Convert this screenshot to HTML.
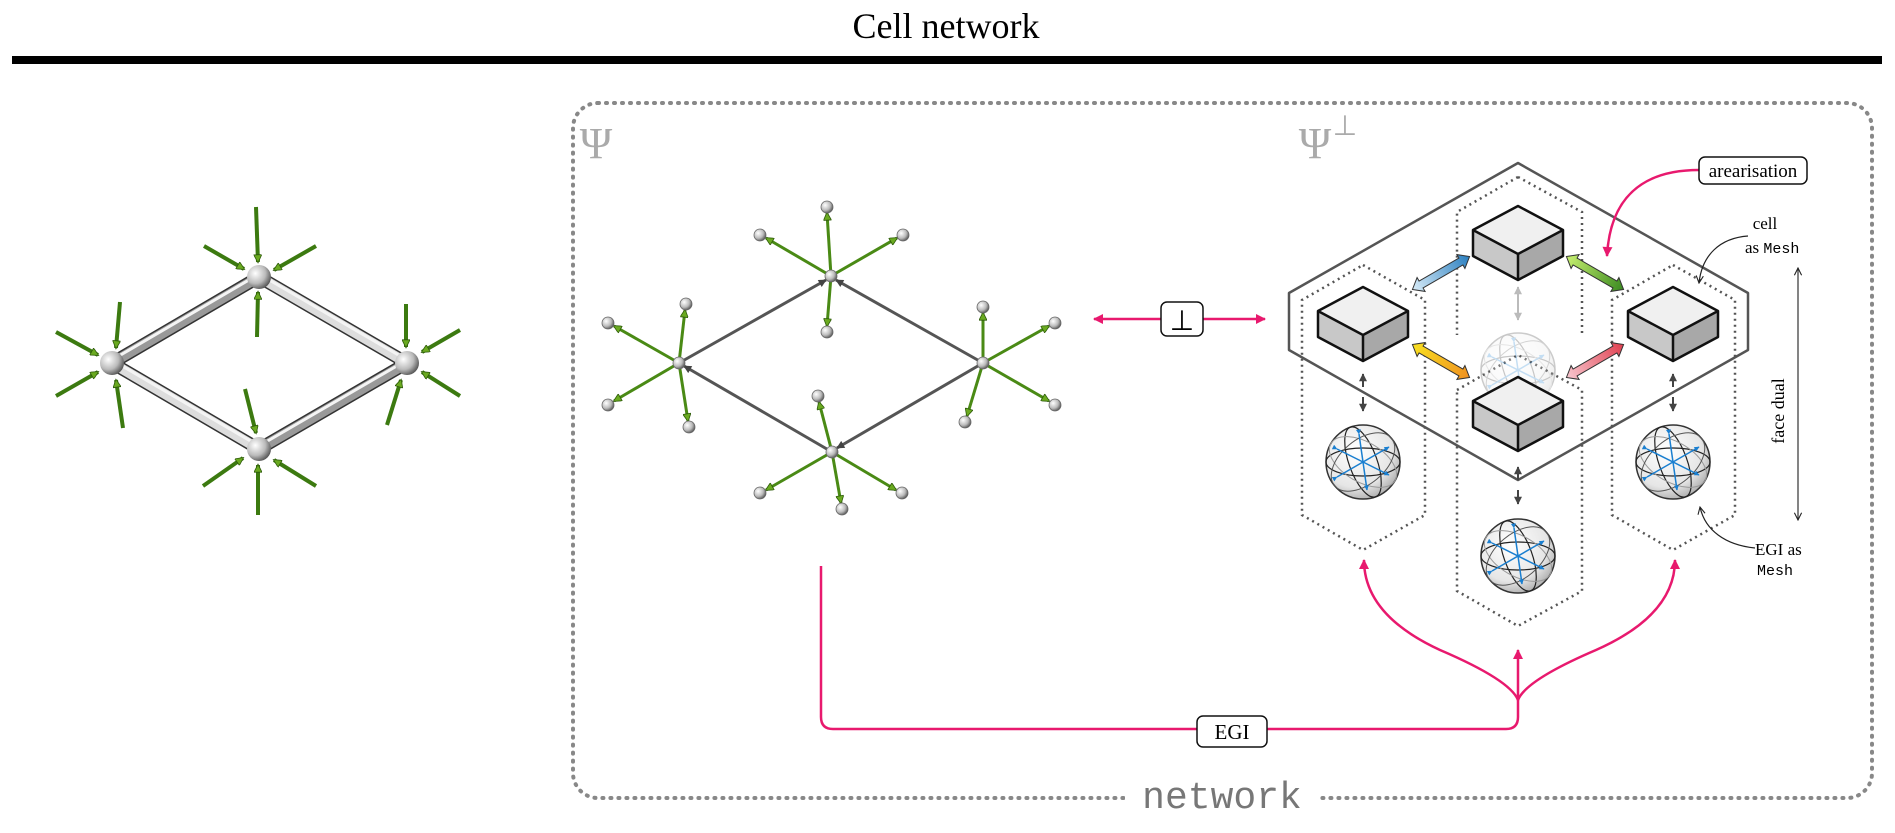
<!DOCTYPE html>
<html><head><meta charset="utf-8"><style>
html,body{margin:0;padding:0;background:#fff;width:1895px;height:833px;overflow:hidden}
svg text{font-family:"Liberation Serif",serif}
</style></head><body>
<svg width="1895" height="833" viewBox="0 0 1895 833" xmlns="http://www.w3.org/2000/svg">
<defs>
<radialGradient id="ball" cx="0.35" cy="0.35" r="0.7"><stop offset="0" stop-color="#fff"/><stop offset="0.6" stop-color="#bbb"/><stop offset="1" stop-color="#555"/></radialGradient>
<radialGradient id="sph" cx="0.4" cy="0.35" r="0.7"><stop offset="0" stop-color="#fff"/><stop offset="0.7" stop-color="#e6e6e6"/><stop offset="1" stop-color="#aaa"/></radialGradient>
<linearGradient id="gb" x1="0" x2="1"><stop offset="0" stop-color="#d8ecf8"/><stop offset="1" stop-color="#2a7fc0"/></linearGradient>
<linearGradient id="gg" x1="0" x2="1"><stop offset="0" stop-color="#c8f070"/><stop offset="1" stop-color="#3a8a20"/></linearGradient>
<linearGradient id="gy" x1="0" x2="1"><stop offset="0" stop-color="#f8e020"/><stop offset="1" stop-color="#f09020"/></linearGradient>
<linearGradient id="gr" x1="0" x2="1"><stop offset="0" stop-color="#f8c8d0"/><stop offset="1" stop-color="#e04050"/></linearGradient>
<marker id="ga" viewBox="0 0 10 10" refX="9" refY="5" markerUnits="userSpaceOnUse" markerWidth="11" markerHeight="8" orient="auto"><path d="M0,0 L10,5 L0,10 z" fill="#6aaa20" stroke="#2d5a0a" stroke-width="1"/></marker>
<marker id="gs" viewBox="0 0 10 10" refX="9" refY="5" markerUnits="userSpaceOnUse" markerWidth="12" markerHeight="8" orient="auto"><path d="M0,0 L10,5 L0,10 z" fill="#6aaa20" stroke="#2d5a0a" stroke-width="1"/></marker>
<marker id="ba" viewBox="0 0 10 10" refX="9" refY="5" markerUnits="userSpaceOnUse" markerWidth="6" markerHeight="5" orient="auto"><path d="M0,0 L10,5 L0,10 z" fill="#1a7fd0"/></marker>
<marker id="pa" viewBox="0 0 10 10" refX="9" refY="5" markerUnits="userSpaceOnUse" markerWidth="11" markerHeight="10" orient="auto-start-reverse"><path d="M0,0 L10,5 L0,10 z" fill="#e8196e"/></marker>
<marker id="ka" viewBox="0 0 10 10" refX="9" refY="5" markerUnits="userSpaceOnUse" markerWidth="10" markerHeight="8" orient="auto-start-reverse"><path d="M0,0 L10,5 L0,10 z" fill="#444"/></marker>
<marker id="la" viewBox="0 0 10 10" refX="9" refY="5" markerUnits="userSpaceOnUse" markerWidth="9" markerHeight="8" orient="auto-start-reverse"><path d="M0,0 L10,5 L0,10 z" fill="#bbb"/></marker>
<marker id="oa" viewBox="0 0 10 10" refX="9" refY="5" markerUnits="userSpaceOnUse" markerWidth="9" markerHeight="9" orient="auto-start-reverse"><path d="M1,1 L9,5 L1,9" fill="none" stroke="#222" stroke-width="1.2"/></marker>
<path id="fat" d="M-33,0 L-23,-8 L-23,-4 L23,-4 L23,-8 L33,0 L23,8 L23,4 L-23,4 L-23,8 Z" stroke="#333" stroke-width="1"/>
<g id="cube">
<path d="M0,-36 L45,-12 L45,14 L0,38 L-45,14 L-45,-12 Z" fill="#d0d0d0"/>
<path d="M-45,-12 L0,-36 L45,-12 L0,12 Z" fill="#f0f0f0"/>
<path d="M-45,-12 L0,12 L0,38 L-45,14 Z" fill="#c8c8c8"/>
<path d="M0,12 L45,-12 L45,14 L0,38 Z" fill="#a8a8a8"/>
<path d="M-45,-12 L0,-36 L45,-12" fill="none" stroke="#ccc" stroke-width="1"/>
<path d="M0,-36 L45,-12 L45,14 L0,38 L-45,14 L-45,-12 Z M-45,-12 L0,12 L45,-12 M0,12 L0,38" fill="none" stroke="#111" stroke-width="2.5" stroke-linejoin="round"/>
</g>
<g id="sphere">
<circle r="37" fill="url(#sph)" stroke="#333" stroke-width="1.5"/>
<ellipse rx="37" ry="14" fill="none" stroke="#222" stroke-width="1.2"/>
<ellipse rx="14" ry="37" fill="none" stroke="#222" stroke-width="1.2" transform="rotate(-20)"/>
<ellipse rx="37" ry="20" fill="none" stroke="#999" stroke-width="1" transform="rotate(30)"/>
<ellipse rx="37" ry="22" fill="none" stroke="#555" stroke-width="1" transform="rotate(-40)"/>
<g stroke="#1a7fd0" stroke-width="1.5" marker-end="url(#ba)" marker-start="url(#ba)">
<line x1="-26" y1="15" x2="26" y2="-15"/><line x1="-26" y1="-13" x2="26" y2="13"/><line x1="-4" y1="-28" x2="4" y2="28"/>
</g>
</g>
</defs>

<text x="946" y="38" font-size="36" text-anchor="middle">Cell network</text>
<rect x="12" y="56" width="1870" height="8" fill="#000"/>

<!-- left network -->
<g stroke-linecap="round">
<g stroke="#333" stroke-width="13"><line x1="112" y1="363" x2="259" y2="277"/><line x1="259" y1="277" x2="407" y2="363"/><line x1="407" y1="363" x2="259" y2="449"/><line x1="259" y1="449" x2="112" y2="363"/></g>
<g stroke-width="10"><line x1="112" y1="363" x2="259" y2="277" stroke="#999"/><line x1="259" y1="277" x2="407" y2="363" stroke="#ddd"/><line x1="407" y1="363" x2="259" y2="449" stroke="#999"/><line x1="259" y1="449" x2="112" y2="363" stroke="#ddd"/></g>
<g stroke-width="3" stroke="#f4f4f4"><line x1="112" y1="360" x2="259" y2="274"/><line x1="259" y1="274" x2="407" y2="360"/><line x1="407" y1="360" x2="259" y2="446"/><line x1="259" y1="446" x2="112" y2="360"/></g>
</g>
<g stroke="#3c7a10" stroke-width="4" marker-end="url(#ga)">
<line x1="256" y1="207" x2="258" y2="262"/><line x1="204" y1="246" x2="244" y2="269"/><line x1="316" y1="246" x2="274" y2="270"/><line x1="257" y1="337" x2="258" y2="292"/>
<line x1="120" y1="302" x2="116" y2="348"/><line x1="56" y1="332" x2="98" y2="355"/><line x1="56" y1="396" x2="98" y2="372"/><line x1="123" y1="428" x2="116" y2="380"/>
<line x1="406" y1="304" x2="406" y2="347"/><line x1="387" y1="425" x2="401" y2="380"/>
<line x1="245" y1="389" x2="256" y2="433"/><line x1="203" y1="486" x2="243" y2="458"/><line x1="316" y1="486" x2="274" y2="460"/><line x1="258" y1="515" x2="258" y2="465"/>
<line x1="460" y1="330" x2="422" y2="352"/><line x1="460" y1="396" x2="422" y2="372"/>
</g>
<g fill="url(#ball)"><circle cx="112" cy="363" r="12"/><circle cx="259" cy="277" r="12"/><circle cx="407" cy="363" r="12"/><circle cx="259" cy="449" r="12"/></g>

<!-- dotted frame -->
<rect x="573" y="103" width="1299" height="695" rx="25" fill="none" stroke="#888" stroke-width="4" stroke-dasharray="1 7" stroke-linecap="round"/>
<rect x="1125" y="780" width="195" height="36" fill="#fff"/>
<text x="1222" y="808" font-size="38" text-anchor="middle" fill="#777" style="font-family:'Liberation Mono',monospace">network</text>
<text x="596" y="158" font-size="44" fill="#aaa" text-anchor="middle">Ψ</text>
<text x="1315" y="158" font-size="44" fill="#aaa" text-anchor="middle">Ψ</text>
<text x="1345" y="135" font-size="28" fill="#aaa" text-anchor="middle">⊥</text>

<!-- middle network -->
<g stroke="#555" stroke-width="3" marker-end="url(#ka)">
<line x1="679" y1="363" x2="826" y2="280"/><line x1="983" y1="363" x2="836" y2="280"/><line x1="983" y1="363" x2="837" y2="448"/><line x1="832" y1="452" x2="684" y2="366"/>
</g>
<g stroke="#4a8a15" stroke-width="3" marker-end="url(#gs)">
<line x1="831" y1="276" x2="827" y2="213"/><line x1="831" y1="276" x2="766" y2="238"/><line x1="831" y1="276" x2="897" y2="238"/><line x1="831" y1="276" x2="827" y2="326"/>
<line x1="679" y1="363" x2="685" y2="310"/><line x1="679" y1="363" x2="614" y2="326"/><line x1="679" y1="363" x2="614" y2="401"/><line x1="679" y1="363" x2="688" y2="421"/>
<line x1="983" y1="363" x2="983" y2="313"/><line x1="983" y1="363" x2="1049" y2="326"/><line x1="983" y1="363" x2="1049" y2="401"/><line x1="983" y1="363" x2="967" y2="416"/>
<line x1="832" y1="452" x2="819" y2="402"/><line x1="832" y1="452" x2="766" y2="490"/><line x1="832" y1="452" x2="896" y2="490"/><line x1="832" y1="452" x2="841" y2="503"/>
</g>
<g fill="url(#ball)" stroke="#666" stroke-width="0.8">
<circle cx="827" cy="207" r="6"/><circle cx="760" cy="235" r="6"/><circle cx="903" cy="235" r="6"/><circle cx="827" cy="332" r="6"/>
<circle cx="686" cy="304" r="6"/><circle cx="608" cy="323" r="6"/><circle cx="608" cy="405" r="6"/><circle cx="689" cy="427" r="6"/>
<circle cx="983" cy="307" r="6"/><circle cx="1055" cy="323" r="6"/><circle cx="1055" cy="405" r="6"/><circle cx="965" cy="422" r="6"/>
<circle cx="818" cy="396" r="6"/><circle cx="760" cy="493" r="6"/><circle cx="902" cy="493" r="6"/><circle cx="842" cy="509" r="6"/>
<circle cx="679" cy="363" r="6"/><circle cx="831" cy="276" r="6"/><circle cx="983" cy="363" r="6"/><circle cx="832" cy="452" r="6"/>
</g>

<!-- perp -->
<line x1="1094" y1="319" x2="1265" y2="319" stroke="#e8196e" stroke-width="2.5" marker-start="url(#pa)" marker-end="url(#pa)"/>
<rect x="1161" y="302" width="42" height="34" rx="6" fill="#fff" stroke="#111" stroke-width="1.5"/>
<text x="1182" y="330" font-size="28" text-anchor="middle">⊥</text>

<!-- right side -->
<path d="M1518,163 L1748,293 L1748,350 L1518,480 L1289,350 L1289,293 Z" fill="none" stroke="#555" stroke-width="2.5" stroke-linejoin="round"/>
<g fill="none" stroke="#555" stroke-width="2.5" stroke-dasharray="2 4">
<path d="M1363,265 L1425,300 L1425,515 L1363,550 L1302,515 L1302,300 Z"/>
<path d="M1673,265 L1735,300 L1735,515 L1673,550 L1612,515 L1612,300 Z"/>
<path d="M1518,177 L1582,212 L1582,335"/>
<path d="M1518,177 L1457,212 L1457,335"/>
<path d="M1457,390 L1518,355 L1582,390 L1582,591 L1518,626 L1457,591 Z"/>
</g>
<g opacity="0.25"><use href="#sphere" x="1518" y="370"/></g>
<line x1="1518" y1="287" x2="1518" y2="320" stroke="#bbb" stroke-width="2" marker-start="url(#la)" marker-end="url(#la)"/>
<use href="#cube" x="1518" y="242"/>
<use href="#cube" x="1363" y="323"/>
<use href="#cube" x="1673" y="323"/>
<use href="#cube" x="1518" y="413"/>
<use href="#fat" fill="url(#gb)" transform="translate(1441,273) rotate(-30)"/>
<use href="#fat" fill="url(#gg)" transform="translate(1595,273) rotate(30)"/>
<use href="#fat" fill="url(#gy)" transform="translate(1441,361) rotate(30)"/>
<use href="#fat" fill="url(#gr)" transform="translate(1595,361) rotate(-30)"/>
<g stroke="#444" stroke-width="2" marker-end="url(#ka)">
<line x1="1363" y1="387" x2="1363" y2="374"/><line x1="1363" y1="397" x2="1363" y2="411"/>
<line x1="1673" y1="387" x2="1673" y2="374"/><line x1="1673" y1="397" x2="1673" y2="411"/>
<line x1="1518" y1="480" x2="1518" y2="467"/><line x1="1518" y1="490" x2="1518" y2="504"/>
</g>
<use href="#sphere" x="1363" y="462"/>
<use href="#sphere" x="1673" y="462"/>
<use href="#sphere" x="1518" y="556"/>

<path d="M1699,170 C1640,170 1610,200 1607,256" fill="none" stroke="#e8196e" stroke-width="2.5" marker-end="url(#pa)"/>
<rect x="1699" y="157" width="108" height="27" rx="6" fill="#fff" stroke="#111" stroke-width="1.5"/>
<text x="1753" y="177" font-size="19" text-anchor="middle">arearisation</text>
<text x="1765" y="229" font-size="17" text-anchor="middle">cell</text>
<text x="1745" y="253" font-size="17">as <tspan style="font-family:'Liberation Mono',monospace" font-size="15">Mesh</tspan></text>
<path d="M1748,236 C1720,238 1702,255 1699,283" fill="none" stroke="#222" stroke-width="1.2" marker-end="url(#oa)"/>
<line x1="1798" y1="268" x2="1798" y2="520" stroke="#333" stroke-width="1.2" marker-start="url(#oa)" marker-end="url(#oa)"/>
<text x="0" y="0" font-size="18" text-anchor="middle" transform="translate(1784,411) rotate(-90)">face dual</text>
<path d="M1755,548 C1725,545 1705,530 1700,507" fill="none" stroke="#222" stroke-width="1.2" marker-end="url(#oa)"/>
<text x="1755" y="555" font-size="17">EGI as</text>
<text x="1757" y="575" font-size="15" style="font-family:'Liberation Mono',monospace">Mesh</text>

<g fill="none" stroke="#e8196e" stroke-width="2.5">
<path d="M821,566 L821,717 Q821,729 833,729 L1506,729 Q1518,729 1518,717 L1518,650" marker-end="url(#pa)"/>
<path d="M1518,700 Q1510,680 1440,650 Q1364,615 1364,560" marker-end="url(#pa)"/>
<path d="M1518,700 Q1526,680 1596,650 Q1675,615 1675,560" marker-end="url(#pa)"/>
</g>
<rect x="1197" y="716" width="70" height="31" rx="6" fill="#fff" stroke="#111" stroke-width="1.5"/>
<text x="1232" y="739" font-size="21" text-anchor="middle">EGI</text>
</svg>
</body></html>
